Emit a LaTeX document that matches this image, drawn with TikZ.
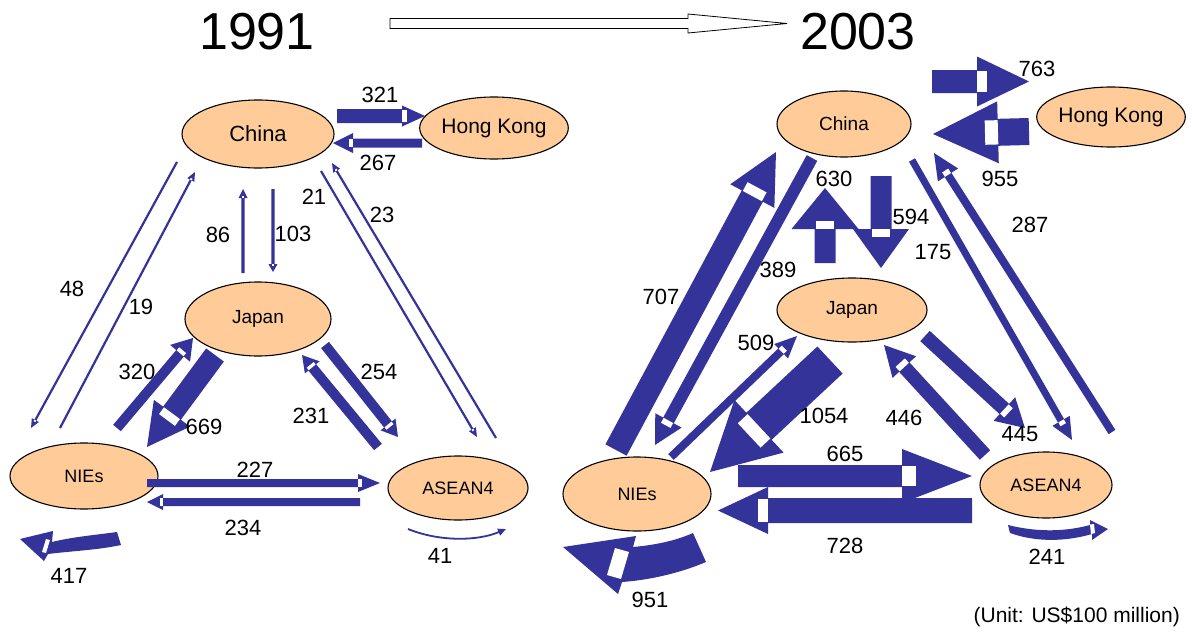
\documentclass[tikz,border=0pt]{standalone}
\usepackage{fontspec}
\setmainfont{Liberation Sans}
\usetikzlibrary{shapes.geometric,arrows.meta}
\definecolor{flow}{HTML}{333399}
\definecolor{region}{HTML}{FFCC99}

% block arrow: \barrow{x1}{y1}{x2}{y2}{shaft width}{head width}{head length}
\newcommand\barrow[7]{%
  \pgfmathsetmacro\bdx{#3-#1}%
  \pgfmathsetmacro\bdy{#2-#4}%
  \pgfmathsetmacro\bang{atan2(\bdy,\bdx)}%
  \pgfmathsetmacro\blen{veclen(\bdx,\bdy)}%
  \pgfmathsetmacro\bbase{\blen-#7}%
  \pgfmathsetmacro\bnotch{\bbase+0.2*#7}%
  \begin{scope}[shift={(#1,#2)},rotate=\bang]
    \fill[flow] (0,-#5/2) -- (\bbase,-#5/2) -- (\bbase,-#6/2) -- (\blen,0)
      -- (\bbase,#6/2) -- (\bbase,#5/2) -- (0,#5/2) -- cycle;
    \fill[white] (\bbase,-0.45*#5) rectangle (\bnotch,0.45*#5);
  \end{scope}}

\tikzset{
  region/.style={ellipse, draw=black, line width=1.1pt, fill=region, inner sep=0pt},
  num/.style={font=\fontsize{22}{24}\selectfont, inner sep=0pt},
  title/.style={font=\fontsize{52}{56}\selectfont, inner sep=0pt},
}

\begin{document}
\begin{tikzpicture}[x=1pt,y=-1pt]
\useasboundingbox (0,0) rectangle (1192,632);

% titles and the period arrow
\node[title] (y91) at (257,32) {1991};
\node[title] (y03) at (858,32) {2003};
\draw[black, line width=0.8pt, fill=white] (390,18.5) -- (688,18.5) -- (688,14) -- (787,23.5)
  -- (688,33) -- (688,28.5) -- (390,28.5) -- cycle;

% ---------------- 1991 ----------------
\node[region, minimum width=152, minimum height=68, font=\fontsize{22}{24}\selectfont] (china91) at (258,134) {China};
\node[region, minimum width=134, minimum height=62, font=\fontsize{21}{24}\selectfont] (hk91) at (494,128) {Hong Kong};
\node[region, minimum width=146, minimum height=74, font=\fontsize{19}{22}\selectfont] (japan91) at (258,319) {Japan};
\node[region, minimum width=148, minimum height=66, font=\fontsize{18}{20}\selectfont] (nies91) at (84,476) {NIEs};
\node[region, minimum width=140, minimum height=64, font=\fontsize{18}{20}\selectfont] (asean91) at (458,488) {ASEAN4};

\barrow{337}{116}{425}{116}{14}{21}{23}
\barrow{422}{143}{333}{143}{9}{20}{20}
\barrow{243}{273}{243}{189}{3.2}{9}{9}
\barrow{273}{189}{273}{272}{3.2}{9}{8}
\barrow{321}{171}{477}{437}{2.2}{8}{9}
\barrow{496}{438}{332}{163}{2.2}{8}{9}
\barrow{177}{162}{31}{428}{2.2}{8}{9}
\barrow{60}{428}{195}{172}{2.2}{8}{9}
\barrow{117}{428}{193}{338}{10}{26}{20}
\barrow{215}{355}{147}{447}{22}{45}{42}
\barrow{325}{345}{398}{437}{10}{19}{16}
\barrow{378}{447}{302}{355}{10}{19}{16}
\barrow{147}{483}{380}{483}{8}{18}{22}
\barrow{360}{502}{147}{502}{8}{16}{16}

% NIEs loop (417)
\fill[flow] (117,532) .. controls (95,535) and (72,537) .. (52,542) -- (53,531) -- (20,539) -- (44,561)
  -- (48,554) .. controls (72,551) and (98,550) .. (121,545) -- cycle;
\fill[white] (46,539) -- (50,540) -- (46,553) -- (42,552) -- cycle;
% ASEAN4 loop (41)
\draw[flow, line width=1.8pt, -{Triangle[length=8pt,width=7pt]}] (408,529) .. controls (440,542) and (478,541) .. (506,529);

\node[num] (l321) at (380,95) {321};
\node[num] (l267) at (378,163) {267};
\node[num] (l86) at (218,235) {86};
\node[num] (l103) at (293,234) {103};
\node[num] (l21) at (314,197) {21};
\node[num] (l23) at (382,215) {23};
\node[num] (l48) at (72,289) {48};
\node[num] (l19) at (141,307) {19};
\node[num] (l320) at (137,372) {320};
\node[num] (l669) at (204,427) {669};
\node[num] (l254) at (379,372) {254};
\node[num] (l231) at (311,416) {231};
\node[num] (l227) at (255,470) {227};
\node[num] (l234) at (243,528) {234};
\node[num] (l417) at (69,576) {417};
\node[num] (l41) at (440,556) {41};

% ---------------- 2003 ----------------
\node[region, minimum width=134, minimum height=66, font=\fontsize{19}{22}\selectfont] (china03) at (844,124) {China};
\node[region, minimum width=142, minimum height=60, font=\fontsize{21}{24}\selectfont] (hk03) at (1111,117) {Hong Kong};
\node[region, minimum width=150, minimum height=64, font=\fontsize{19}{22}\selectfont] (japan03) at (852,310) {Japan};
\node[region, minimum width=148, minimum height=74, font=\fontsize{18}{20}\selectfont] (nies03) at (637,494) {NIEs};
\node[region, minimum width=132, minimum height=66, font=\fontsize{18}{20}\selectfont] (asean03) at (1046,485) {ASEAN4};

\barrow{932}{81.5}{1029}{81.5}{23}{50}{52}
\barrow{1029}{131.5}{933}{134}{27}{62}{65}
\barrow{825}{263}{825}{188}{21}{67}{41}
\barrow{881}{176}{881}{268}{21}{56}{39}
\barrow{616}{450}{776}{152}{24}{50}{50}
\barrow{812}{158}{655}{445}{12}{30}{28}
\barrow{671}{457}{797}{336}{8}{20}{22}
\barrow{830}{360}{710}{472}{37}{72}{67}
\barrow{985}{455}{884}{345}{14}{32}{30}
\barrow{925}{336}{1025}{428}{14}{32}{28}
\barrow{912}{160}{1072}{440}{7}{20}{22}
\barrow{1112}{432}{934}{153}{8}{24}{26}
\barrow{738}{476}{972}{476}{22}{54}{70}
\barrow{972}{510.5}{718}{510.5}{25}{47}{50}

% NIEs loop (951)
\fill[flow] (693,533) .. controls (675,541) and (655,545) .. (633,547) -- (636,536) -- (563,547) -- (618,594)
  -- (622,582) .. controls (650,580) and (680,573) .. (706,562) -- cycle;
\fill[white] (615,548) -- (629,552) -- (621,579) -- (607,575) -- cycle;
% ASEAN4 loop (241)
\fill[flow] (1008,525) .. controls (1040,533) and (1068,531) .. (1090,525) -- (1090,520) -- (1108,529)
  -- (1092,540) -- (1092,534) .. controls (1068,541) and (1038,543) .. (1010,533) -- cycle;
\fill[white] (1090,524.5) -- (1094,524) -- (1095,533) -- (1091,534) -- cycle;

\node[num] (l763) at (1037,69) {763};
\node[num] (l955) at (1000,179) {955};
\node[num] (l630) at (834,179) {630};
\node[num] (l594) at (911,217) {594};
\node[num] (l175) at (933,252) {175};
\node[num] (l287) at (1030,225) {287};
\node[num] (l389) at (778,270) {389};
\node[num] (l707) at (661,297) {707};
\node[num] (l509) at (756,343) {509};
\node[num] (l1054) at (824,416) {1054};
\node[num] (l446) at (904,418) {446};
\node[num] (l445) at (1020,434) {445};
\node[num] (l665) at (845,454) {665};
\node[num] (l728) at (845,546) {728};
\node[num] (l951) at (650,600) {951};
\node[num] (l241) at (1047,557) {241};

\node[anchor=east, font=\fontsize{21}{23}\selectfont, inner sep=0pt] (unit) at (1180,617) {(Unit: US\$100 million)};
\end{tikzpicture}
\end{document}
